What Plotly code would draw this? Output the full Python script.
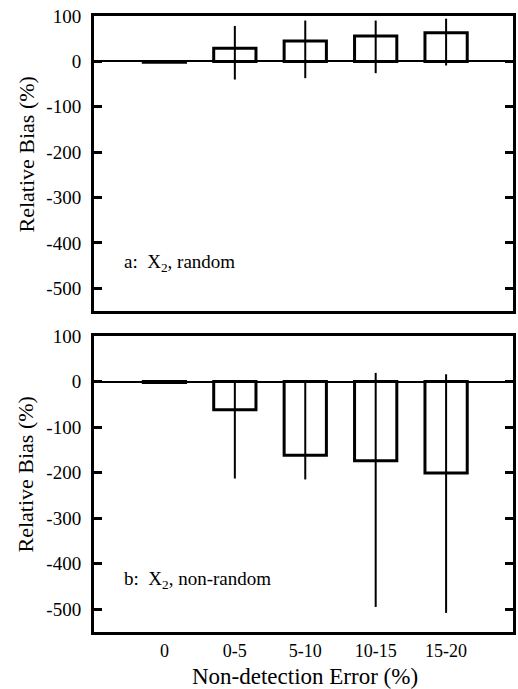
import plotly.graph_objects as go

categories = ["0", "0-5", "5-10", "10-15", "15-20"]
x_pos = [0, 1, 2, 3, 4]

a_bias = [-2, 29, 45, 56, 63]
a_upper = [-2, 78, 90, 90, 94]
a_lower = [-2, -40, -37, -26, -9]

b_bias = [-2, -62, -162, -174, -201]
b_upper = [-2, 0, 0, 19, 16]
b_lower = [-2, -213, -215, -495, -508]

y_ticks = [100, 0, -100, -200, -300, -400, -500]
y_tick_labels = ["100", "0", "-100", "-200", "-300", "-400", "-500"]

FONT = "Liberation Serif, Times New Roman, serif"


def bar_trace(vals, up, lo, xa, ya):
    return go.Bar(
        x=x_pos, y=vals, width=0.6,
        marker=dict(color="rgba(0,0,0,0)", line=dict(color="black", width=3)),
        error_y=dict(type="data", symmetric=False,
                     array=[u - v for u, v in zip(up, vals)],
                     arrayminus=[v - l for v, l in zip(vals, lo)],
                     color="black", thickness=2, width=0),
        xaxis=xa, yaxis=ya, showlegend=False, hoverinfo="skip",
    )


fig = go.Figure()
fig.add_trace(bar_trace(a_bias, a_upper, a_lower, "x", "y"))
fig.add_trace(bar_trace(b_bias, b_upper, b_lower, "x2", "y2"))

xcommon = dict(range=[-1, 4.95], showline=True, linecolor="black", linewidth=3,
               mirror=True, showgrid=False, zeroline=False, ticks="",
               tickvals=x_pos, ticktext=categories,
               tickfont=dict(family=FONT, size=18, color="black"))
ycommon = dict(range=[-550, 100], showline=True, linecolor="black", linewidth=3,
               mirror="ticks", showgrid=False, zeroline=True, zerolinecolor="black",
               zerolinewidth=2, ticks="inside", ticklen=8, tickwidth=3, tickcolor="black",
               tickvals=y_ticks, ticktext=y_tick_labels, ticklabelstandoff=6,
               tickfont=dict(family=FONT, size=19, color="black"))

fig.update_layout(
    width=518, height=689,
    margin=dict(l=94, r=2, t=16, b=57),
    plot_bgcolor="white", paper_bgcolor="white",
    font=dict(family=FONT, color="black"),
    xaxis=dict(domain=[0, 1], anchor="y", showticklabels=False, **xcommon),
    yaxis=dict(domain=[0.5211, 1], anchor="x", **ycommon),
    xaxis2=dict(domain=[0, 1], anchor="y2", showticklabels=True, **xcommon),
    yaxis2=dict(domain=[0, 0.4805], anchor="x2", **ycommon),
    bargap=0.4,
)

ann_font = dict(family=FONT, size=19, color="black")
fig.add_annotation(text="a:&nbsp; X<sub>2</sub>, random", xref="paper", yref="paper",
                   x=(122 - 94) / 422, y=(632 - 263) / 616, xanchor="left", yanchor="middle",
                   showarrow=False, font=ann_font)
fig.add_annotation(text="b:&nbsp; X<sub>2</sub>, non-random", xref="paper", yref="paper",
                   x=(122 - 94) / 422, y=(632 - 580) / 616, xanchor="left", yanchor="middle",
                   showarrow=False, font=ann_font)

title_font = dict(family=FONT, size=22, color="black")
fig.add_annotation(text="Relative Bias (%)", xref="paper", yref="paper",
                   x=(26 - 94) / 422, y=(632 - 154) / 616, xanchor="center", yanchor="middle",
                   textangle=-90, showarrow=False, font=title_font)
fig.add_annotation(text="Relative Bias (%)", xref="paper", yref="paper",
                   x=(26 - 94) / 422, y=(632 - 474) / 616, xanchor="center", yanchor="middle",
                   textangle=-90, showarrow=False, font=title_font)
fig.add_annotation(text="Non-detection Error (%)", xref="paper", yref="paper",
                   x=(307 - 94) / 422, y=(632 - 676) / 616, xanchor="center", yanchor="middle",
                   showarrow=False, font=dict(family=FONT, size=23, color="black"))

fig.write_html("out.html", config={"displayModeBar": False},
               post_script="document.body.style.margin='0';document.body.style.overflow='hidden';")
